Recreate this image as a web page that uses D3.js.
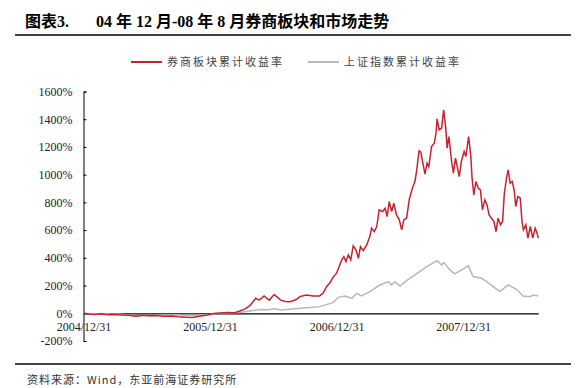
<!DOCTYPE html>
<html>
<head>
<meta charset="utf-8">
<script src="https://cdn.jsdelivr.net/npm/d3@7"></script>
<style>
  body { margin: 0; background: #fff; }
  svg { display: block; }
</style>
</head>
<body>
<div id="chart"></div>
<script>
// series names
var seriesNames = ["券商板块累计收益率", "上证指数累计收益率"];

// 券商板块累计收益率 (%)
var brokerDates = [
  "2004-12-31","2005-01-15","2005-02-01","2005-02-20","2005-03-10","2005-03-30","2005-04-20","2005-05-10",
  "2005-05-30","2005-06-20","2005-07-10","2005-07-30","2005-08-20","2005-09-10","2005-09-30","2005-10-20",
  "2005-11-10","2005-11-30","2005-12-20","2006-01-10","2006-01-30","2006-02-20","2006-03-10","2006-03-25",
  "2006-04-10","2006-04-25","2006-05-12","2006-05-22","2006-06-05","2006-06-12","2006-06-20","2006-07-04",
  "2006-07-12","2006-07-23","2006-08-05","2006-08-19","2006-09-07","2006-09-16","2006-10-05","2006-10-24",
  "2006-11-12","2006-11-22","2006-12-02","2006-12-12","2006-12-21","2006-12-31","2007-01-15","2007-01-21",
  "2007-01-27","2007-02-03","2007-02-10","2007-02-17","2007-02-25","2007-03-04","2007-03-10","2007-03-18",
  "2007-03-28","2007-04-06","2007-04-11","2007-04-19","2007-04-26","2007-05-03","2007-05-13","2007-05-20",
  "2007-05-26","2007-06-01","2007-06-08","2007-06-14","2007-06-22","2007-06-30","2007-07-07","2007-07-13",
  "2007-07-21","2007-07-29","2007-08-06","2007-08-14","2007-08-19","2007-08-26","2007-08-31","2007-09-07",
  "2007-09-12","2007-09-18","2007-09-23","2007-10-01","2007-10-09","2007-10-14","2007-10-17","2007-10-23",
  "2007-10-30","2007-11-05","2007-11-11","2007-11-15","2007-11-20","2007-11-28","2007-12-03","2007-12-09",
  "2007-12-15","2007-12-20","2007-12-26","2008-01-03","2008-01-08","2008-01-16","2008-01-22","2008-01-26",
  "2008-01-31","2008-02-06","2008-02-13","2008-02-19","2008-02-25","2008-03-03","2008-03-09","2008-03-15",
  "2008-03-22","2008-03-29","2008-04-04","2008-04-10","2008-04-17","2008-04-23","2008-04-28","2008-05-05",
  "2008-05-09","2008-05-15","2008-05-21","2008-05-27","2008-05-31","2008-06-06","2008-06-13","2008-06-18",
  "2008-06-22","2008-06-29","2008-07-05","2008-07-12","2008-07-19","2008-07-26","2008-07-31","2008-08-04"
];
var brokerValues = [
  0, -5, -8, -3, -10, -8, -12, -15,
  -22, -14, -18, -16, -22, -20, -25, -28,
  -30, -22, -15, -2, 2, 5, 3, 15,
  30, 55, 108, 95, 125, 110, 95, 135,
  118, 95, 85, 84, 101, 120, 132, 125,
  125, 144, 192, 220, 260, 289, 385, 409,
  373, 421, 385, 486, 457, 397, 481, 452,
  493, 553, 614, 589, 626, 746, 734, 758,
  698, 806, 734, 794, 710, 674, 602, 674,
  686, 823, 897, 950, 1027, 1172, 1162, 1071,
  1004, 1083, 1059, 1203, 1227, 1300, 1403, 1323,
  1336, 1468, 1336, 1191, 1275, 1095, 1011, 1119,
  1047, 986, 1095, 1167, 1131, 1275, 1143, 975,
  854, 950, 902, 890, 746, 818, 782, 710,
  686, 662, 589, 686, 638, 662, 866, 986,
  1035, 939, 950, 878, 770, 842, 830, 662,
  602, 638, 542, 626, 542, 614, 582, 542
];

// 上证指数累计收益率 (%)
var indexDates = [
  "2004-12-31","2005-01-20","2005-02-10","2005-03-01","2005-03-20","2005-04-10","2005-05-01","2005-05-20",
  "2005-06-05","2005-06-25","2005-07-15","2005-08-05","2005-08-25","2005-09-15","2005-10-05","2005-10-25",
  "2005-11-15","2005-12-05","2005-12-31","2006-01-20","2006-02-10","2006-03-05","2006-03-25","2006-04-15",
  "2006-05-05","2006-05-25","2006-06-15","2006-07-05","2006-07-25","2006-08-19","2006-09-16","2006-10-15",
  "2006-11-13","2006-12-21","2007-01-05","2007-01-24","2007-02-13","2007-02-27","2007-03-13","2007-04-06",
  "2007-05-05","2007-05-29","2007-06-08","2007-06-17","2007-07-02","2007-07-21","2007-08-14","2007-09-07",
  "2007-09-26","2007-10-17","2007-10-30","2007-11-06","2007-11-23","2007-12-07","2007-12-27","2008-01-15",
  "2008-01-29","2008-02-22","2008-03-08","2008-03-27","2008-04-15","2008-05-09","2008-06-02","2008-06-21",
  "2008-07-11","2008-07-20","2008-08-04"
];
var indexValues = [
  0, -4, -3, -2, -7, -6, -10, -15,
  -20, -15, -18, -14, -12, -10, -13, -14,
  -15, -12, -8, -2, 2, 3, 5, 12,
  20, 28, 25, 32, 24, 29, 36, 42,
  48, 77, 115, 125, 108, 144, 125, 156,
  204, 228, 204, 228, 197, 235, 277, 318,
  349, 380, 349, 366, 313, 284, 313, 342,
  265, 253, 228, 192, 156, 204, 173, 125,
  120, 132, 125
];

var yTicks = [-200, 0, 200, 400, 600, 800, 1000, 1200, 1400, 1600];
var xTickLabels = ["2004/12/31", "2005/12/31", "2006/12/31", "2007/12/31"];
var colors = ["#c62331", "#b8b8b8"];

var W = 586, H = 388;
var parse = d3.timeParse("%Y-%m-%d");
var parseLabel = d3.timeParse("%Y/%m/%d");

var broker = brokerDates.map(function (d, i) { return {date: parse(d), value: brokerValues[i]}; });
var index = indexDates.map(function (d, i) { return {date: parse(d), value: indexValues[i]}; });

var svg = d3.select("#chart").append("svg")
  .attr("width", W)
  .attr("height", H);

// title
var title = svg.append("text")
  .attr("x", 25)
  .attr("y", 27)
  .style("font-family", "'Liberation Serif', 'Noto Sans CJK SC', serif")
  .style("font-weight", "bold")
  .style("font-size", "16px")
  .style("fill", "#000");
title.append("tspan").text("图表3.");
title.append("tspan").attr("x", 96).text("04 年 12 月-08 年 8 月券商板块和市场走势");

svg.append("line")
  .attr("x1", 15).attr("x2", 571)
  .attr("y1", 35).attr("y2", 35)
  .style("stroke", "#000").style("stroke-width", 1.5);

svg.append("line")
  .attr("x1", 15).attr("x2", 571)
  .attr("y1", 364).attr("y2", 364)
  .style("stroke", "#000").style("stroke-width", 1.5);

svg.append("text")
  .attr("x", 27)
  .attr("y", 384)
  .style("font-family", "'Noto Sans CJK SC', sans-serif")
  .style("font-size", "11px")
  .style("letter-spacing", "1px")
  .style("fill", "#333")
  .text("资料来源：Wind，东亚前海证券研究所");

// scales
var x = d3.scaleTime()
  .domain([broker[0].date, broker[broker.length - 1].date])
  .range([83.5, 538.3]);

var y = d3.scaleLinear()
  .domain([-200, 1600])
  .range([341, 91.5]);

// y axis
var yAxis = svg.append("g")
  .attr("transform", "translate(83.5,0)")
  .call(d3.axisRight(y).tickValues(yTicks).tickSize(3).tickFormat(function (d) { return d + "%"; }));
yAxis.select(".domain").style("stroke", "#000");
yAxis.selectAll(".tick line").style("stroke", "#000");
yAxis.selectAll(".tick text")
  .attr("x", -11)
  .attr("text-anchor", "end")
  .style("font-family", "'Liberation Serif', serif")
  .style("font-size", "12px")
  .style("fill", "#222");

// x axis along 0%
var xAxis = svg.append("g")
  .attr("transform", "translate(0," + y(0) + ")")
  .call(d3.axisBottom(x)
    .tickValues(xTickLabels.map(parseLabel))
    .tickSize(0)
    .tickFormat(d3.timeFormat("%Y/%m/%d")));
xAxis.select(".domain").style("stroke", "#000").style("stroke-width", 1.3);
xAxis.selectAll(".tick text")
  .attr("dy", "1.2em")
  .style("font-family", "'Liberation Serif', serif")
  .style("font-size", "12px")
  .style("fill", "#222");

// lines
var line = d3.line()
  .x(function (d) { return x(d.date); })
  .y(function (d) { return y(d.value); });

svg.append("path")
  .datum(index)
  .attr("d", line)
  .style("fill", "none")
  .style("stroke", colors[1])
  .style("stroke-width", 1.5);

svg.append("path")
  .datum(broker)
  .attr("d", line)
  .style("fill", "none")
  .style("stroke", colors[0])
  .style("stroke-width", 1.5);

// legend
var legendX = [131, 308];
seriesNames.forEach(function (name, i) {
  var g = svg.append("g").attr("transform", "translate(" + legendX[i] + ",62)");
  g.append("line")
    .attr("x1", 0).attr("x2", 31)
    .style("stroke", colors[i]).style("stroke-width", 2);
  g.append("text")
    .attr("x", 36)
    .attr("dy", "0.35em")
    .style("font-family", "'Noto Sans CJK SC', sans-serif")
    .style("font-size", "11px")
    .style("letter-spacing", "2px")
    .style("fill", "#444")
    .text(name);
});
</script>
</body>
</html>
